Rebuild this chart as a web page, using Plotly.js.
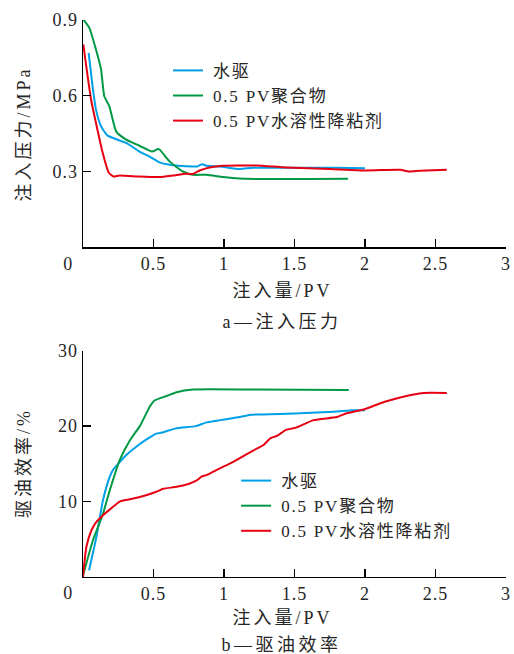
<!DOCTYPE html>
<html>
<head>
<meta charset="utf-8">
<script src="https://cdn.plot.ly/plotly-3.0.1.min.js"></script>
<style>
html,body{margin:0;padding:0;background:#fff;}
#chart{width:514px;height:654px;}
#chart .g-xtitle text, #chart .g-x2title text, #chart .g-ytitle text, #chart .g-y2title text{letter-spacing:3px;}
#chart .annotation-text{letter-spacing:3.5px;}
#chart .xtick text, #chart .x2tick text, #chart .ytick text, #chart .y2tick text{letter-spacing:1px;}
</style>
</head>
<body>
<div id="chart"></div>
<script>
// ---- Data: (a) injection pressure, MPa ----
const pvWaterP = [0.04,0.068,0.092,0.128,0.175,0.306,0.4,0.47,0.543,0.637,0.78,0.81,0.846,0.875,0.97,1.11,1.206,1.5,1.8,2.0];
const presWater = [0.77,0.637,0.545,0.479,0.442,0.413,0.379,0.36,0.336,0.325,0.32,0.32,0.329,0.323,0.32,0.31,0.315,0.315,0.315,0.313];

const pvPolyP = [0.002,0.045,0.092,0.128,0.151,0.187,0.235,0.306,0.4,0.49,0.531,0.545,0.614,0.708,0.78,0.875,0.993,1.11,1.325,1.6,1.88];
const presPoly = [0.902,0.869,0.783,0.704,0.598,0.558,0.459,0.426,0.402,0.379,0.389,0.386,0.34,0.3,0.287,0.287,0.278,0.272,0.27,0.27,0.271];

const pvVRP = [0.002,0.033,0.057,0.092,0.14,0.182,0.215,0.258,0.4,0.543,0.637,0.73,0.78,0.827,0.898,0.993,1.11,1.23,1.444,1.75,2.01,2.25,2.31,2.39,2.58];
const presVR = [0.803,0.677,0.585,0.492,0.373,0.296,0.28,0.284,0.28,0.278,0.284,0.291,0.29,0.304,0.316,0.323,0.324,0.324,0.316,0.31,0.304,0.307,0.3,0.303,0.307];

// ---- Data: (b) oil displacement efficiency, % ----
const pvWaterE = [0.043,0.095,0.142,0.19,0.213,0.249,0.309,0.38,0.448,0.52,0.57,0.66,0.80,0.877,1.11,1.19,1.54,1.78,1.92,2.0];
const effWater = [0.9,5.3,10.2,13.3,14.2,15.0,16.2,17.3,18.2,19.0,19.2,19.7,20.0,20.5,21.2,21.5,21.7,21.9,22.1,22.1];

const pvPolyE = [0,0.036,0.071,0.142,0.19,0.26,0.332,0.403,0.474,0.507,0.593,0.664,0.78,1.2,1.885];
const effPoly = [0.2,2.65,4.9,8.4,11.5,15.5,18.1,20.0,22.6,23.4,24.0,24.5,24.85,24.85,24.8];

const pvVRE = [0,0.024,0.06,0.095,0.142,0.2,0.26,0.332,0.424,0.52,0.57,0.664,0.758,0.806,0.84,0.875,0.97,1.07,1.21,1.28,1.33,1.375,1.44,1.51,1.635,1.8,1.87,1.99,2.135,2.25,2.345,2.415,2.58];
const effVR = [0,4.0,6.2,7.3,8.2,9.1,10.0,10.3,10.7,11.3,11.7,11.95,12.4,12.8,13.3,13.5,14.4,15.3,16.8,17.5,18.4,18.7,19.5,19.8,20.8,21.2,21.7,22.2,23.2,23.8,24.2,24.4,24.4];

const seriesNames = ['水驱','0.5 PV聚合物','0.5 PV水溶性降粘剂'];
const colors = ['#00a0e9','#009944','#e60012'];

const xTickVals = [0.5,1,1.5,2,2.5,3];
const xTickText = ['0.5','1','1.5','2','2.5','3'];
const pTickVals = [0.3,0.6,0.9];
const pTickText = ['0.3','0.6','0.9'];
const eTickVals = [10,20,30];
const eTickText = ['10','20','30'];

const FONT = '"Liberation Serif", "Times New Roman", "Noto Sans CJK SC", serif';
const TXT = '#262626';

function line(x,y,i,xa,ya,leg){
  return {x:x,y:y,type:'scatter',mode:'lines',name:seriesNames[i],
    xaxis:xa,yaxis:ya,legend:leg,
    line:{color:colors[i],width:2,shape:'spline',smoothing:0.5},
    hoverinfo:'skip'};
}

const data = [
  line(pvWaterP,presWater,0,'x','y','legend'),
  line(pvPolyP,presPoly,1,'x','y','legend'),
  line(pvVRP,presVR,2,'x','y','legend'),
  line(pvWaterE,effWater,0,'x2','y2','legend2'),
  line(pvPolyE,effPoly,1,'x2','y2','legend2'),
  line(pvVRE,effVR,2,'x2','y2','legend2')
];

const axCommon = {
  showline:true, linecolor:'#000', linewidth:1.4, mirror:false,
  ticks:'inside', ticklen:8, tickwidth:1.4, tickcolor:'#000',
  showgrid:false, zeroline:false,
  tickfont:{family:FONT,size:18,color:TXT}
};
const tf = {family:FONT,size:18,color:TXT};
const lf = {family:FONT,size:17,color:TXT};

const layout = {
  width:514, height:654,
  margin:{l:83,r:8,t:20,b:77},
  paper_bgcolor:'#fff', plot_bgcolor:'#fff',
  font:tf,
  showlegend:true,
  xaxis:Object.assign({},axCommon,{domain:[0,1],anchor:'y',range:[0,3],tickvals:xTickVals,ticktext:xTickText,
    title:{text:'注入量/PV',font:tf}}),
  yaxis:Object.assign({},axCommon,{domain:[0.592,1],anchor:'x',range:[0,0.9],tickvals:pTickVals,ticktext:pTickText,
    title:{text:'注入压力/MPa',font:tf}}),
  xaxis2:Object.assign({},axCommon,{domain:[0,1],anchor:'y2',range:[0,3],tickvals:xTickVals,ticktext:xTickText,
    title:{text:'注入量/PV',font:tf}}),
  yaxis2:Object.assign({},axCommon,{domain:[0,0.4063],anchor:'x2',range:[0,30],tickvals:eTickVals,ticktext:eTickText,
    title:{text:'驱油效率/%',font:tf}}),
  legend:{x:0.201,y:0.941,xanchor:'left',yanchor:'top',bgcolor:'rgba(0,0,0,0)',
    font:lf,tracegroupgap:0,itemwidth:30},
  legend2:{x:0.362,y:0.2046,xanchor:'left',yanchor:'top',bgcolor:'rgba(0,0,0,0)',
    font:lf,tracegroupgap:0,itemwidth:30},
  annotations:[
    {text:'0',xref:'paper',yref:'paper',x:-0.032,y:0.562,xanchor:'center',yanchor:'middle',showarrow:false,font:tf},
    {text:'0',xref:'paper',yref:'paper',x:-0.032,y:-0.0287,xanchor:'center',yanchor:'middle',showarrow:false,font:tf},
    {text:'a—注入压力',xref:'paper',yref:'paper',x:0.470,y:0.4584,xanchor:'center',yanchor:'middle',showarrow:false,font:tf},
    {text:'b—驱油效率',xref:'paper',yref:'paper',x:0.470,y:-0.122,xanchor:'center',yanchor:'middle',showarrow:false,font:tf}
  ]
};

// target centres (px) for the axis titles
const titleTargets = {xtitle:[282.5,291.5,false], x2title:[282.5,618,false], ytitle:[24,134,true], y2title:[24,463,true]};

Plotly.newPlot('chart',data,layout,{staticPlot:true,displayModeBar:false}).then(function(gd){
  // legend text: wider tracking and a slightly larger gap after the line sample
  const texts = Array.from(gd.querySelectorAll('text')).filter(t => seriesNames.indexOf(t.textContent) >= 0);
  texts.forEach(function(t){
    t.style.letterSpacing = '1.8px';
    t.setAttribute('transform','translate(5,0)');
    let p = t.parentNode;
    while(p && p.nodeName.toLowerCase() !== 'svg'){
      if(p.getAttribute && p.getAttribute('clip-path') && !(p.classList && p.classList.contains('plot'))) p.removeAttribute('clip-path');
      p = p.parentNode;
    }
  });
  // axis titles: place their centres where the reference has them
  Object.keys(titleTargets).forEach(function(k){
    const el = gd.querySelector('text.' + k);
    if(!el) return;
    const tg = titleTargets[k];
    let orig = tg[2] ? (el.getAttribute('transform') || '') : '';
    el.setAttribute('transform', orig);
    const r = el.getBoundingClientRect();
    const dx = tg[0] - (r.left + r.width/2);
    const dy = tg[1] - (r.top + r.height/2);
    el.setAttribute('transform', 'translate(' + dx + ',' + dy + ') ' + orig);
  });
});
</script>
</body>
</html>
